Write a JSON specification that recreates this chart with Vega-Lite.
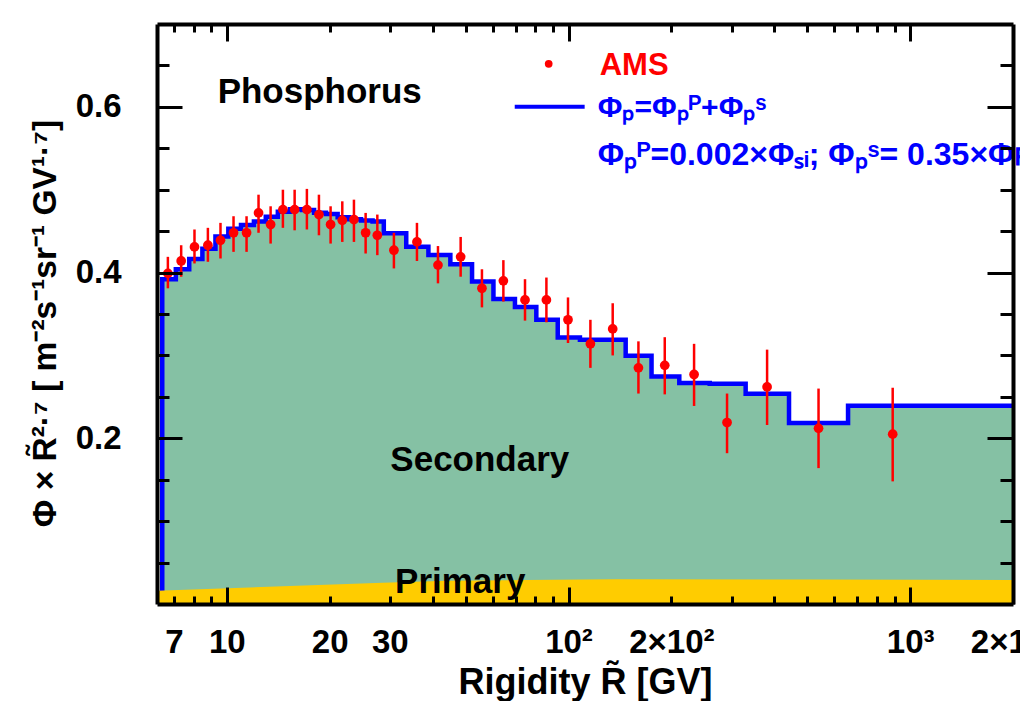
{
  "$schema": "https://vega.github.io/schema/vega-lite/v6.json",
  "width": 856,
  "height": 580,
  "autosize": {"type": "none"},
  "padding": {"left": 157, "top": 24, "right": 7, "bottom": 97},
  "background": "white",
  "config": {"view": {"stroke": null}, "font": "Liberation Sans"},
  "datasets": {
    "ams": [
      {"R": 6.72, "flux": 0.399, "lo": 0.381, "hi": 0.419},
      {"R": 7.35, "flux": 0.414, "lo": 0.395, "hi": 0.433},
      {"R": 8.04, "flux": 0.431, "lo": 0.411, "hi": 0.452},
      {"R": 8.80, "flux": 0.433, "lo": 0.413, "hi": 0.454},
      {"R": 9.58, "flux": 0.439, "lo": 0.417, "hi": 0.460},
      {"R": 10.46, "flux": 0.448, "lo": 0.425, "hi": 0.468},
      {"R": 11.42, "flux": 0.448, "lo": 0.425, "hi": 0.468},
      {"R": 12.38, "flux": 0.472, "lo": 0.448, "hi": 0.494},
      {"R": 13.43, "flux": 0.458, "lo": 0.435, "hi": 0.480},
      {"R": 14.59, "flux": 0.476, "lo": 0.454, "hi": 0.500},
      {"R": 15.79, "flux": 0.476, "lo": 0.451, "hi": 0.500},
      {"R": 17.15, "flux": 0.476, "lo": 0.452, "hi": 0.501},
      {"R": 18.60, "flux": 0.470, "lo": 0.445, "hi": 0.494},
      {"R": 20.12, "flux": 0.458, "lo": 0.435, "hi": 0.480},
      {"R": 21.77, "flux": 0.463, "lo": 0.437, "hi": 0.486},
      {"R": 23.55, "flux": 0.464, "lo": 0.437, "hi": 0.488},
      {"R": 25.48, "flux": 0.448, "lo": 0.423, "hi": 0.472},
      {"R": 27.57, "flux": 0.445, "lo": 0.421, "hi": 0.470},
      {"R": 30.83, "flux": 0.427, "lo": 0.405, "hi": 0.448},
      {"R": 36.01, "flux": 0.437, "lo": 0.414, "hi": 0.460},
      {"R": 41.49, "flux": 0.409, "lo": 0.387, "hi": 0.432},
      {"R": 48.34, "flux": 0.419, "lo": 0.395, "hi": 0.443},
      {"R": 55.80, "flux": 0.381, "lo": 0.358, "hi": 0.404},
      {"R": 64.47, "flux": 0.390, "lo": 0.365, "hi": 0.415},
      {"R": 74.59, "flux": 0.367, "lo": 0.342, "hi": 0.392},
      {"R": 86.16, "flux": 0.367, "lo": 0.340, "hi": 0.394},
      {"R": 99.66, "flux": 0.343, "lo": 0.315, "hi": 0.370},
      {"R": 115.9, "flux": 0.314, "lo": 0.285, "hi": 0.343},
      {"R": 134.7, "flux": 0.332, "lo": 0.300, "hi": 0.363},
      {"R": 160.2, "flux": 0.285, "lo": 0.254, "hi": 0.317},
      {"R": 191.3, "flux": 0.288, "lo": 0.253, "hi": 0.322},
      {"R": 233.1, "flux": 0.277, "lo": 0.239, "hi": 0.314},
      {"R": 291.1, "flux": 0.219, "lo": 0.182, "hi": 0.254},
      {"R": 381.3, "flux": 0.262, "lo": 0.216, "hi": 0.307},
      {"R": 539.3, "flux": 0.212, "lo": 0.164, "hi": 0.260},
      {"R": 889, "flux": 0.205, "lo": 0.148, "hi": 0.261}
    ],
    "model": [
      {"i": 0, "R": 6.47, "total": 0},
      {"i": 1, "R": 6.47, "total": 0.392},
      {"i": 2, "R": 7.09, "total": 0.404},
      {"i": 3, "R": 7.76, "total": 0.4165},
      {"i": 4, "R": 8.48, "total": 0.4286},
      {"i": 5, "R": 9.26, "total": 0.4434},
      {"i": 6, "R": 10.1, "total": 0.453},
      {"i": 7, "R": 11.0, "total": 0.4575},
      {"i": 8, "R": 12.0, "total": 0.4615},
      {"i": 9, "R": 13.0, "total": 0.4675},
      {"i": 10, "R": 14.1, "total": 0.4735},
      {"i": 11, "R": 15.3, "total": 0.4764},
      {"i": 12, "R": 16.6, "total": 0.4755},
      {"i": 13, "R": 18.0, "total": 0.4723},
      {"i": 14, "R": 19.5, "total": 0.4707},
      {"i": 15, "R": 21.1, "total": 0.4667},
      {"i": 16, "R": 22.8, "total": 0.4643},
      {"i": 17, "R": 24.7, "total": 0.4627},
      {"i": 18, "R": 26.7, "total": 0.4615},
      {"i": 19, "R": 28.8, "total": 0.4475},
      {"i": 20, "R": 33.5, "total": 0.4313},
      {"i": 21, "R": 38.9, "total": 0.4213},
      {"i": 22, "R": 45.1, "total": 0.410},
      {"i": 23, "R": 52.2, "total": 0.3892},
      {"i": 24, "R": 60.3, "total": 0.368},
      {"i": 25, "R": 69.7, "total": 0.3583},
      {"i": 26, "R": 80.5, "total": 0.343},
      {"i": 27, "R": 93.0, "total": 0.3215},
      {"i": 28, "R": 108, "total": 0.319},
      {"i": 29, "R": 125, "total": 0.319},
      {"i": 30, "R": 147, "total": 0.2996},
      {"i": 31, "R": 175, "total": 0.2747},
      {"i": 32, "R": 211, "total": 0.2667},
      {"i": 33, "R": 259, "total": 0.2659},
      {"i": 34, "R": 330, "total": 0.2539},
      {"i": 35, "R": 442, "total": 0.2185},
      {"i": 36, "R": 658, "total": 0.2394},
      {"i": 37, "R": 2000, "total": 0.2394}
    ],
    "primary": [
      {"R": 6.245, "prim": 0.016},
      {"R": 11.65, "prim": 0.020},
      {"R": 28.6, "prim": 0.0257},
      {"R": 44, "prim": 0.028},
      {"R": 75, "prim": 0.029},
      {"R": 138, "prim": 0.0298},
      {"R": 500, "prim": 0.0295},
      {"R": 2000, "prim": 0.029}
    ]
  },
  "layer": [
    {
      "data": {"name": "model"},
      "transform": [{"filter": "datum.i > 0"}],
      "mark": {"type": "area", "interpolate": "step-after", "color": "#85c1a4", "opacity": 1},
      "encoding": {
        "x": {
          "field": "R", "type": "quantitative",
          "scale": {"type": "log", "domain": [6.245, 2000], "nice": false},
          "axis": {
            "orient": "bottom",
            "values": [7, 8, 9, 10, 20, 30, 40, 50, 60, 70, 80, 90, 100, 200, 300, 400, 500, 600, 700, 800, 900, 1000, 2000],
            "labelExpr": "datum.value==7?'7':datum.value==10?'10':datum.value==20?'20':datum.value==30?'30':datum.value==100?'10²':datum.value==200?'2×10²':datum.value==1000?'10³':datum.value==2000?'2×10³':''",
            "grid": false,
            "ticks": true,
            "tickSize": {"condition": {"test": "datum.value==10||datum.value==100||datum.value==1000", "value": -17}, "value": -8},
            "labelPadding": {"condition": {"test": "datum.value==10||datum.value==100||datum.value==1000", "value": 39}, "value": 30},
            "tickWidth": 3,
            "tickColor": "black",
            "domain": true,
            "domainWidth": 4,
            "domainColor": "black",
            "labelFont": "Liberation Sans",
            "labelFontWeight": "bold",
            "labelFontSize": 33,
            "labelColor": "black",
            "labelBaseline": "top",
            "labelAlign": "center",
            "labelFlush": false,
            "labelOverlap": false,
            "labelBound": false,
            "title": "Rigidity  R̃ [GV]",
            "titleFont": "Liberation Sans",
            "titleFontWeight": "bold",
            "titleFontSize": 36,
            "titleColor": "black",
            "titleAlign": "center",
            "titleBaseline": "alphabetic",
            "titleX": 428,
            "titleY": 89,
            "zindex": 1
          }
        },
        "y": {
          "field": "total", "type": "quantitative", "stack": null,
          "scale": {"domain": [0, 0.7], "nice": false, "zero": true},
          "axis": {
            "orient": "left",
            "values": [0.05, 0.1, 0.15, 0.2, 0.25, 0.3, 0.35, 0.4, 0.45, 0.5, 0.55, 0.6, 0.65],
            "labelExpr": "abs(datum.value-0.2)<0.001?'0.2':abs(datum.value-0.4)<0.001?'0.4':abs(datum.value-0.6)<0.001?'0.6':''",
            "grid": false,
            "ticks": true,
            "tickSize": {"condition": {"test": "abs(datum.value-0.2)<0.001||abs(datum.value-0.4)<0.001||abs(datum.value-0.6)<0.001", "value": -25}, "value": -12},
            "labelPadding": {"condition": {"test": "abs(datum.value-0.2)<0.001||abs(datum.value-0.4)<0.001||abs(datum.value-0.6)<0.001", "value": 61}, "value": 48},
            "tickWidth": 3,
            "tickColor": "black",
            "domain": true,
            "domainWidth": 4,
            "domainColor": "black",
            "labelFont": "Liberation Sans",
            "labelFontWeight": "bold",
            "labelFontSize": 33,
            "labelColor": "black",
            "labelBaseline": "middle",
            "labelAlign": "right",
            "labelOverlap": false,
            "labelBound": false,
            "labelFlush": false,
            "title": "Φ × R̃²·⁷ [ m⁻²s⁻¹sr⁻¹ GV¹·⁷]",
            "titleFont": "Liberation Sans",
            "titleFontWeight": "bold",
            "titleFontSize": 33.5,
            "titleColor": "black",
            "titleAngle": -90,
            "titleAlign": "center",
            "titleBaseline": "alphabetic",
            "titleX": -102,
            "titleY": 299,
            "zindex": 1
          }
        }
      }
    },
    {
      "data": {"name": "model"},
      "mark": {"type": "line", "interpolate": "step-after", "color": "#0000ff", "strokeWidth": 4.5},
      "encoding": {
        "x": {
          "field": "R", "type": "quantitative",
          "axis": {
            "orient": "top",
            "values": [7, 8, 9, 10, 20, 30, 40, 50, 60, 70, 80, 90, 100, 200, 300, 400, 500, 600, 700, 800, 900, 1000],
            "labels": false,
            "grid": false,
            "ticks": true,
            "tickSize": {"condition": {"test": "datum.value==10||datum.value==100||datum.value==1000", "value": -17}, "value": -8},
            "tickWidth": 3,
            "tickColor": "black",
            "domain": true,
            "domainWidth": 4,
            "domainColor": "black",
            "title": null,
            "zindex": 1
          }
        },
        "y": {
          "field": "total", "type": "quantitative", "stack": null,
          "axis": {
            "orient": "right",
            "values": [0.05, 0.1, 0.15, 0.2, 0.25, 0.3, 0.35, 0.4, 0.45, 0.5, 0.55, 0.6, 0.65],
            "labels": false,
            "grid": false,
            "ticks": true,
            "tickSize": {"condition": {"test": "abs(datum.value-0.2)<0.001||abs(datum.value-0.4)<0.001||abs(datum.value-0.6)<0.001", "value": -26}, "value": -13},
            "tickWidth": 3,
            "tickColor": "black",
            "domain": true,
            "domainWidth": 4,
            "domainColor": "black",
            "title": null,
            "zindex": 1
          }
        },
        "order": {"field": "i", "type": "quantitative"}
      }
    },
    {
      "data": {"name": "primary"},
      "mark": {"type": "area", "color": "#ffcc00", "opacity": 1},
      "encoding": {
        "x": {"field": "R", "type": "quantitative", "axis": null},
        "y": {"field": "prim", "type": "quantitative", "stack": null, "axis": null}
      }
    },
    {
      "data": {"name": "ams"},
      "mark": {"type": "rule", "color": "#ff0000", "strokeWidth": 2.5},
      "encoding": {
        "x": {"field": "R", "type": "quantitative", "axis": null},
        "y": {"field": "lo", "type": "quantitative", "axis": null},
        "y2": {"field": "hi"}
      }
    },
    {
      "data": {"name": "ams"},
      "mark": {"type": "circle", "color": "#ff0000", "size": 95, "opacity": 1},
      "encoding": {
        "x": {"field": "R", "type": "quantitative", "axis": null},
        "y": {"field": "flux", "type": "quantitative", "axis": null}
      }
    },
    {
      "data": {"values": [{}]},
      "mark": {"type": "text", "text": "Phosphorus", "font": "Liberation Sans", "fontWeight": "bold", "fontSize": 35, "color": "black", "align": "center", "baseline": "alphabetic"},
      "encoding": {
        "x": {"datum": 18.7, "type": "quantitative", "axis": null},
        "y": {"datum": 0.605, "type": "quantitative", "axis": null}
      }
    },
    {
      "data": {"values": [{}]},
      "mark": {"type": "text", "text": "Secondary", "font": "Liberation Sans", "fontWeight": "bold", "fontSize": 35, "color": "black", "align": "center", "baseline": "alphabetic"},
      "encoding": {
        "x": {"datum": 55, "type": "quantitative", "axis": null},
        "y": {"datum": 0.1606, "type": "quantitative", "axis": null}
      }
    },
    {
      "data": {"values": [{}]},
      "mark": {"type": "text", "text": "Primary", "font": "Liberation Sans", "fontWeight": "bold", "fontSize": 35, "color": "black", "align": "center", "baseline": "alphabetic"},
      "encoding": {
        "x": {"datum": 48.2, "type": "quantitative", "axis": null},
        "y": {"datum": 0.0133, "type": "quantitative", "axis": null}
      }
    },
    {
      "data": {"values": [{}]},
      "mark": {"type": "circle", "color": "#ff0000", "size": 60, "opacity": 1},
      "encoding": {
        "x": {"datum": 87.5, "type": "quantitative", "axis": null},
        "y": {"datum": 0.652, "type": "quantitative", "axis": null}
      }
    },
    {
      "data": {"values": [{}]},
      "mark": {"type": "text", "text": "AMS", "font": "Liberation Sans", "fontWeight": "bold", "fontSize": 31, "color": "#ff0000", "align": "left", "baseline": "alphabetic"},
      "encoding": {
        "x": {"datum": 123.4, "type": "quantitative", "axis": null},
        "y": {"datum": 0.638, "type": "quantitative", "axis": null}
      }
    },
    {
      "data": {"values": [{}]},
      "mark": {"type": "rule", "color": "#0000ff", "strokeWidth": 4},
      "encoding": {
        "x": {"datum": 69.6, "type": "quantitative", "axis": null},
        "x2": {"datum": 111.5},
        "y": {"datum": 0.6, "type": "quantitative", "axis": null}
      }
    },
    {
      "data": {"values": [{}]},
      "mark": {"type": "text", "text": "Φₚ=Φₚᴾ+Φₚˢ", "font": "Liberation Sans", "fontWeight": "bold", "fontSize": 30, "color": "#0000ff", "align": "left", "baseline": "alphabetic"},
      "encoding": {
        "x": {"datum": 121.8, "type": "quantitative", "axis": null},
        "y": {"datum": 0.588, "type": "quantitative", "axis": null}
      }
    },
    {
      "data": {"values": [{}]},
      "mark": {"type": "text", "text": "Φₚᴾ=0.002×Φₛᵢ; Φₚˢ= 0.35×Φꜰ", "font": "Liberation Sans", "fontWeight": "bold", "fontSize": 32, "color": "#0000ff", "align": "left", "baseline": "alphabetic"},
      "encoding": {
        "x": {"datum": 121.8, "type": "quantitative", "axis": null},
        "y": {"datum": 0.530, "type": "quantitative", "axis": null}
      }
    }
  ]
}
